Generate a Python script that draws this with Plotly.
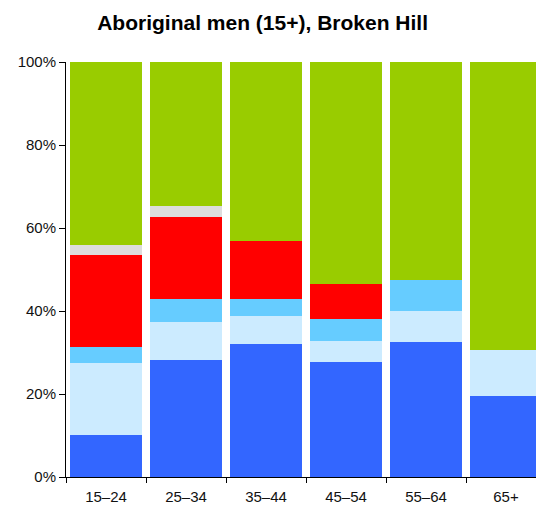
import plotly.graph_objects as go

ages = ['15–24', '25–34', '35–44', '45–54', '55–64', '65+']

# share of men in each age group (%), bottom to top
full_time = [10.1, 28.2, 32.0, 27.6, 32.6, 19.4]
part_time = [17.4, 9.1, 6.9, 5.2, 7.5, 11.2]
hours_ns = [3.9, 5.5, 4.1, 5.3, 7.4, 0]
unemployed = [22.0, 19.9, 13.9, 8.5, 0, 0]
not_stated = [2.6, 2.7, 0, 0, 0, 0]
not_in_lf = [44.0, 34.6, 43.1, 53.4, 52.5, 69.4]

y_ticks = [0, 20, 40, 60, 80, 100]
y_labels = ['0%', '20%', '40%', '60%', '80%', '100%']

series = [
    ('Employed full-time', full_time, '#3366FF'),
    ('Employed part-time', part_time, '#CCEBFF'),
    ('Employed, hours not stated', hours_ns, '#66CCFF'),
    ('Unemployed', unemployed, '#FF0000'),
    ('Not stated', not_stated, '#DDDDDD'),
    ('Not in labour force', not_in_lf, '#99CC00'),
]

fig = go.Figure()
for name, vals, col in series:
    fig.add_trace(go.Bar(
        x=ages, y=vals, name=name,
        marker_color=col,
        marker_line_width=0,
    ))

# page has an 8px body margin, so offsets are relative to that
fig.update_layout(
    barmode='stack',
    bargap=0.09,
    width=544, height=498,
    margin=dict(l=58, r=6, t=54, b=29),
    plot_bgcolor='white',
    paper_bgcolor='white',
    showlegend=False,
    font=dict(family='Liberation Sans, Arial, sans-serif', size=15, color='#111'),
    title=dict(text='<b>Aboriginal men (15+), Broken Hill</b>',
               x=0.468, xanchor='center', y=1 - 15 / 498, yanchor='middle',
               font=dict(size=21, color='black')),
)
fig.update_yaxes(range=[0, 100], tickmode='array', tickvals=y_ticks, ticktext=y_labels,
                 showgrid=False, showline=True, linecolor='black', linewidth=1,
                 ticks='outside', ticklen=6, tickcolor='black', zeroline=False,
                 automargin=False)
fig.update_xaxes(showgrid=False, showline=True, linecolor='black', linewidth=1,
                 ticks='outside', ticklen=5, tickcolor='black', tickson='boundaries',
                 ticklabelstandoff=6, automargin=False)

fig.write_html('out.html')
